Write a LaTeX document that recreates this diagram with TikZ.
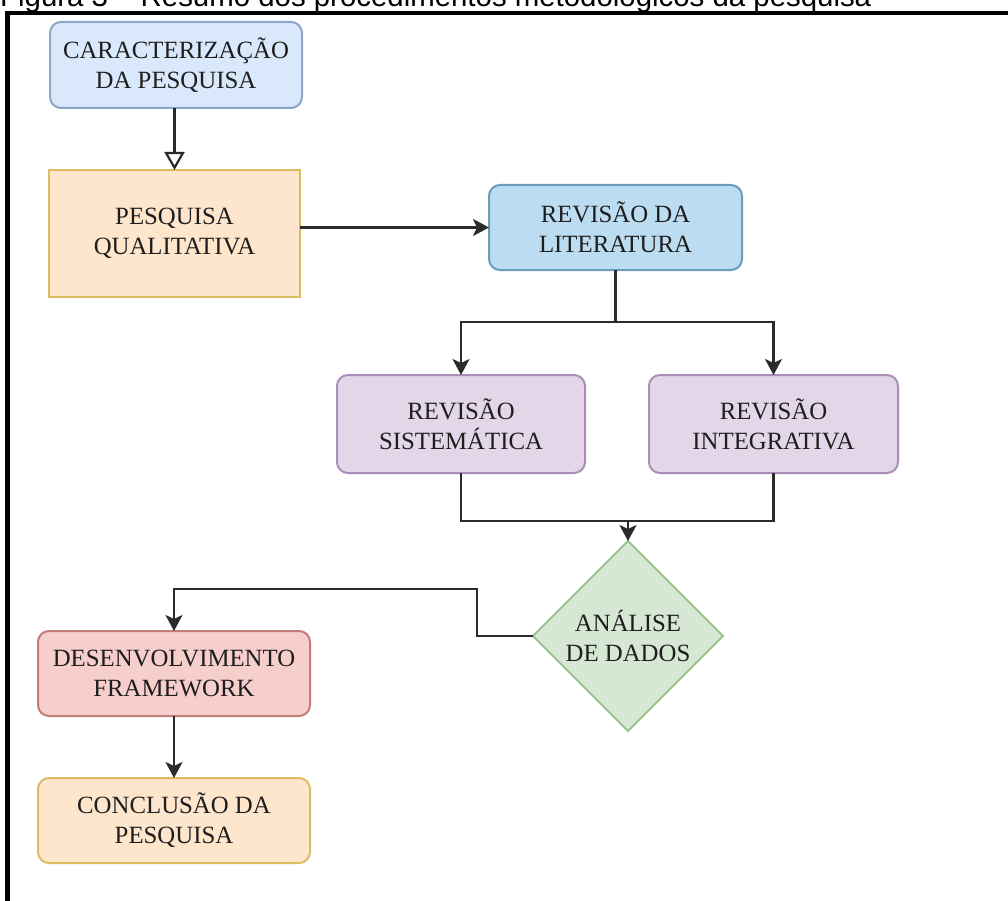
\documentclass[tikz,border=0pt]{standalone}
\usepackage{fontspec}
\setmainfont{Liberation Serif}
\newfontfamily\capfont{Liberation Sans}
\usetikzlibrary{shapes.geometric,arrows.meta}
\definecolor{linec}{HTML}{2B2B2B}
\definecolor{txt}{HTML}{1E1E1E}
\definecolor{bluefill}{HTML}{DAE8FC}\definecolor{blueline}{HTML}{8CA6C8}
\definecolor{orfill}{HTML}{FDE6CC}\definecolor{orline}{HTML}{DCBC62}
\definecolor{litfill}{HTML}{BCDDF1}\definecolor{litline}{HTML}{6D9BBB}
\definecolor{purfill}{HTML}{E2D6E8}\definecolor{purline}{HTML}{AA8EB7}
\definecolor{grfill}{HTML}{D6E8D4}\definecolor{grline}{HTML}{9CC28C}
\definecolor{redfill}{HTML}{F6CFCD}\definecolor{redline}{HTML}{C47C78}
\tikzset{
  box/.style={draw, line width=2pt, rounded corners=11pt, align=center, text=txt,
    inner sep=0pt, outer sep=0pt, font=\fontsize{24.8}{30}\selectfont},
  sharpbox/.style={box, rounded corners=0pt},
  decision/.style={diamond, shape aspect=1, draw=grline, fill=grfill, line width=2pt,
    align=center, text=txt, inner sep=0pt, outer sep=0pt,
    minimum width=190pt, minimum height=190pt, font=\fontsize{24.8}{30}\selectfont},
  conn/.style={draw=linec, line width=2.2pt},
  arr/.style={-{Stealth[length=16pt,width=17pt,inset=4pt]}},
  openarr/.style={-{Triangle[length=18pt,width=20pt,fill=white]}}
}
\begin{document}
\begin{tikzpicture}[x=1pt,y=-1pt]
\clip (0,0) rectangle (1008,901);
\fill[white] (0,0) rectangle (1008,901);
% caption (cut at the top in the reference)
\node[anchor=base west, inner sep=0pt, font=\capfont\fontsize{29.4}{34}\selectfont] (cap) at (0,7)
  {Figura 3 – Resumo dos procedimentos metodológicos da pesquisa};
% frame
\draw[line width=4.5pt] (7.5,905) -- (7.5,13) -- (1012,13);
% nodes
\node[box, draw=blueline, fill=bluefill, minimum width=252pt, minimum height=86pt] (car) at (176,65)
  {CARACTERIZAÇÃO\\DA PESQUISA};
\node[sharpbox, draw=orline, fill=orfill, minimum width=251pt, minimum height=127pt] (qual) at (174.5,233.5)
  {PESQUISA\\QUALITATIVA};
\node[box, draw=litline, fill=litfill, minimum width=253pt, minimum height=85pt] (lit) at (615.5,227.5)
  {REVISÃO DA\\LITERATURA};
\node[box, draw=purline, fill=purfill, minimum width=248pt, minimum height=98pt] (sis) at (461,424)
  {REVISÃO\\SISTEMÁTICA};
\node[box, draw=purline, fill=purfill, minimum width=249pt, minimum height=98pt] (int) at (773.5,424)
  {REVISÃO\\INTEGRATIVA};
\node[decision] (dia) at (628,636) {ANÁLISE\\DE DADOS};
\node[box, draw=redline, fill=redfill, minimum width=272pt, minimum height=85pt] (des) at (174,673.5)
  {DESENVOLVIMENTO\\FRAMEWORK};
\node[box, draw=orline, fill=orfill, minimum width=272pt, minimum height=85pt] (con) at (174,820.5)
  {CONCLUSÃO DA\\PESQUISA};
% junction points
\coordinate (j1) at (615.5,322);
\coordinate (j2) at (628,521);
\coordinate (k1) at (477,589);
% connectors
\draw[conn, openarr] (qual.north |- car.south) -- (qual.north);
\draw[conn, arr] (lit.west -| qual.east) -- (lit.west);
\draw[conn, arr] (lit.south) -- (j1) -| (sis.north);
\draw[conn, arr] (j1) -| (int.north);
\draw[conn] (sis.south) |- (j2);
\draw[conn] (int.south) |- (j2);
\draw[conn, arr] (j2) -- (dia.north);
\draw[conn, arr] (dia.west) -| (k1) -| (des.north);
\draw[conn, arr] (des.south) -- (con.north);
\end{tikzpicture}
\end{document}
